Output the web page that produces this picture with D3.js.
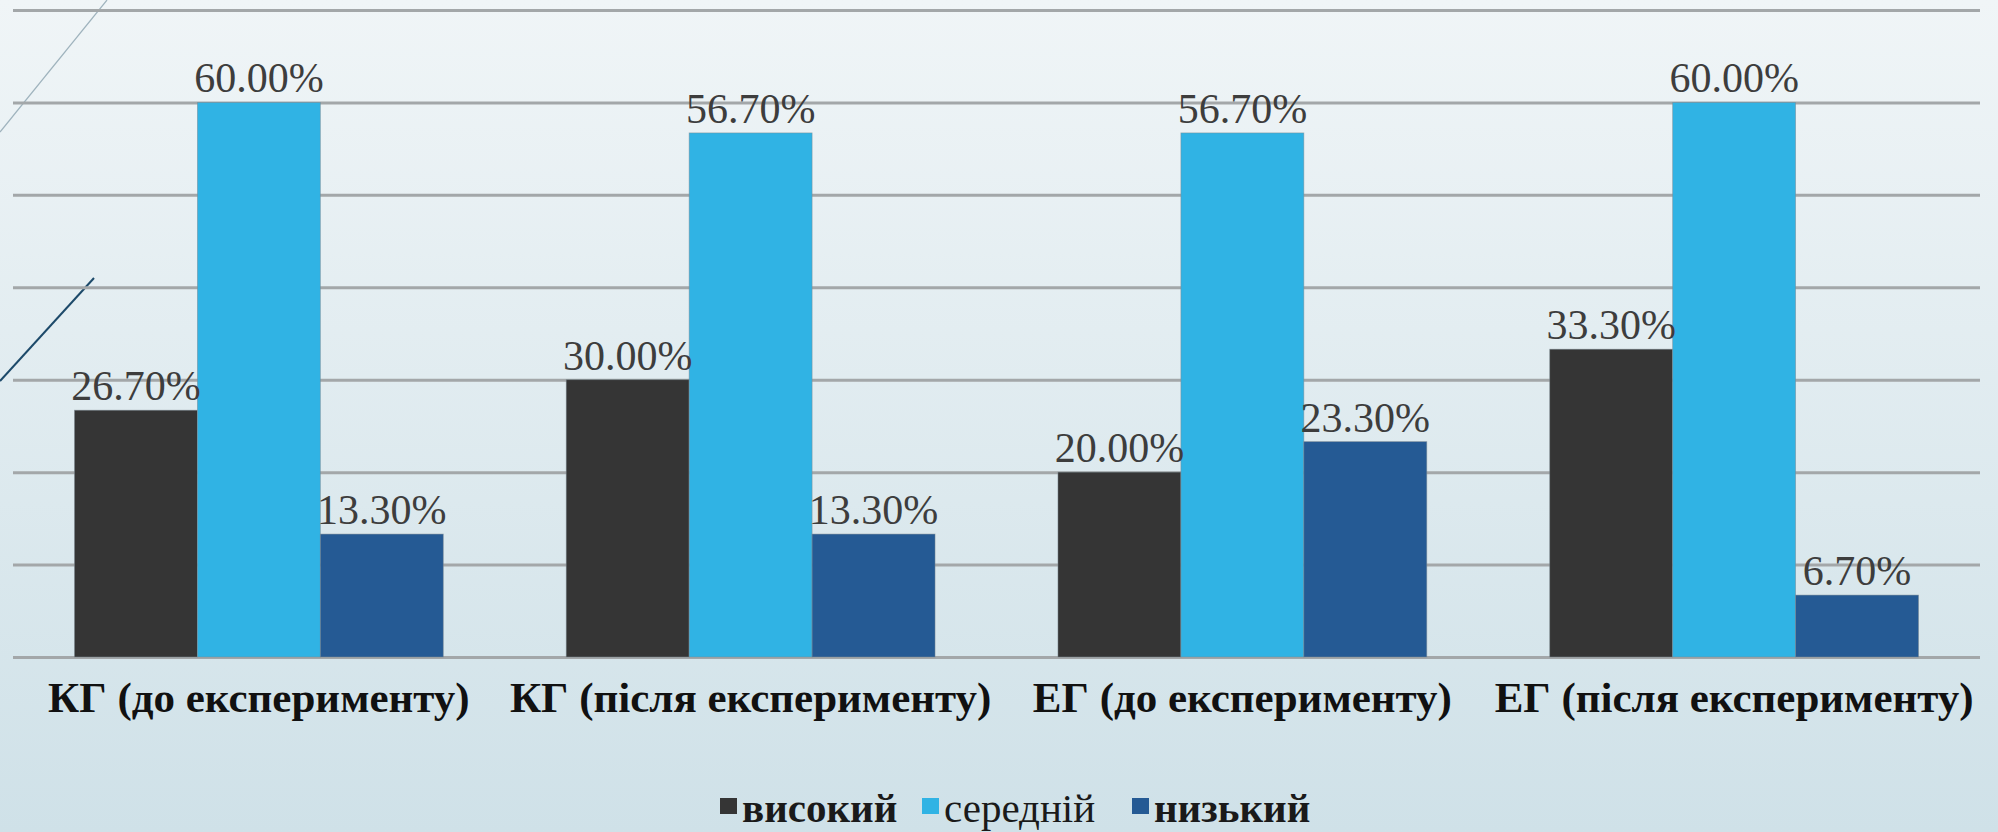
<!DOCTYPE html>
<html>
<head>
<meta charset="utf-8">
<script src="https://cdn.jsdelivr.net/npm/d3@7"></script>
<style>
  html, body { margin: 0; padding: 0; overflow: hidden; }
  svg { display: block; }
</style>
</head>
<body>
<svg id="chart" width="1998" height="832"></svg>
<script>
const categories = ["КГ (до експерименту)", "КГ (після експерименту)", "ЕГ (до експерименту)", "ЕГ (після експерименту)"];
const seriesNames = ["високий", "середній", "низький"];
const highValues = [0.267, 0.300, 0.200, 0.333];
const midValues = [0.600, 0.567, 0.567, 0.600];
const lowValues = [0.133, 0.133, 0.233, 0.067];
const gridTicks = [0, 0.1, 0.2, 0.3, 0.4, 0.5, 0.6, 0.7];
const seriesColors = ["#353535", "#30b3e4", "#255a94"];
const legendWeights = ["bold", "normal", "bold"];

const FONT = '"Liberation Serif", "Tinos", "Times New Roman", serif';
const seriesValues = [highValues, midValues, lowValues];
const W = 1998, H = 832;
const svg = d3.select("#chart");

// background
const defs = svg.append("defs");
const grad = defs.append("linearGradient").attr("id", "bg").attr("x1", 0).attr("y1", 0).attr("x2", 0).attr("y2", 1);
grad.append("stop").attr("offset", "0%").attr("stop-color", "#f0f5f7");
grad.append("stop").attr("offset", "100%").attr("stop-color", "#cfe1e8");
svg.append("rect").attr("width", W).attr("height", H).attr("fill", "url(#bg)");

// decorative slide lines
svg.append("line").attr("x1", 0).attr("y1", 132).attr("x2", 107).attr("y2", 0)
  .attr("stroke", "#9fb3bd").attr("stroke-width", 1.2);
svg.append("line").attr("x1", 0).attr("y1", 381).attr("x2", 94).attr("y2", 278)
  .attr("stroke", "#1d4a6a").attr("stroke-width", 2);

const plotLeft = 13, plotRight = 1980, plotTop = 10, plotBottom = 657;
const x0 = d3.scaleBand().domain(categories).range([plotLeft, plotRight]).paddingInner(0).paddingOuter(0);
const x1 = d3.scaleBand().domain(seriesNames)
  .range([x0.bandwidth() * 0.125, x0.bandwidth() * 0.875]).padding(0);
const y = d3.scaleLinear().domain([0, 0.7]).range([plotBottom, plotTop]);

// gridlines
const grid = svg.append("g").attr("transform", `translate(${plotLeft},0)`)
  .call(d3.axisLeft(y).tickValues(gridTicks).tickSize(-(plotRight - plotLeft)).tickFormat(""));
grid.select(".domain").remove();
grid.selectAll(".tick line").attr("stroke", "#a3a7a9").attr("stroke-width", 3);

// bars
const rows = categories.map((c, i) => ({ cat: c, vals: seriesNames.map((s, j) => ({ s, j, v: seriesValues[j][i] })) }));
const groups = svg.append("g").selectAll("g").data(rows).join("g")
  .attr("transform", d => `translate(${x0(d.cat)},0)`);
groups.selectAll("rect").data(d => d.vals).join("rect")
  .attr("x", d => x1(d.s))
  .attr("y", d => y(d.v))
  .attr("width", x1.bandwidth())
  .attr("height", d => plotBottom - y(d.v))
  .attr("fill", d => seriesColors[d.j])
  .attr("stroke", "#7d8b92").attr("stroke-width", 0.8).attr("stroke-opacity", 0.6);

// data labels
groups.selectAll("text").data(d => d.vals).join("text")
  .attr("x", d => x1(d.s) + x1.bandwidth() / 2)
  .attr("y", d => y(d.v) - 10)
  .attr("text-anchor", "middle")
  .style("font-family", FONT)
  .style("font-size", "42px")
  .attr("fill", "#3d3d3d")
  .text(d => (d.v * 100).toFixed(2) + "%");

// category labels
const xAxis = svg.append("g").attr("transform", `translate(0,${plotBottom})`)
  .call(d3.axisBottom(x0).tickSize(0).tickPadding(0));
xAxis.select(".domain").remove();
xAxis.selectAll(".tick text")
  .attr("y", 55).attr("dy", 0)
  .style("font-family", FONT)
  .style("font-size", "43px").style("font-weight", "bold").attr("fill", "#111");

// legend
const legendX = [720, 922, 1132];
const legend = svg.append("g");
seriesNames.forEach((s, i) => {
  legend.append("rect").attr("x", legendX[i]).attr("y", 798).attr("width", 17).attr("height", 16)
    .attr("fill", seriesColors[i]);
  legend.append("text").attr("x", legendX[i] + 22).attr("y", 822)
    .style("font-family", FONT)
    .style("font-size", "41px").style("font-weight", legendWeights[i]).attr("fill", "#1a1a1a")
    .text(s);
});
</script>
</body>
</html>
